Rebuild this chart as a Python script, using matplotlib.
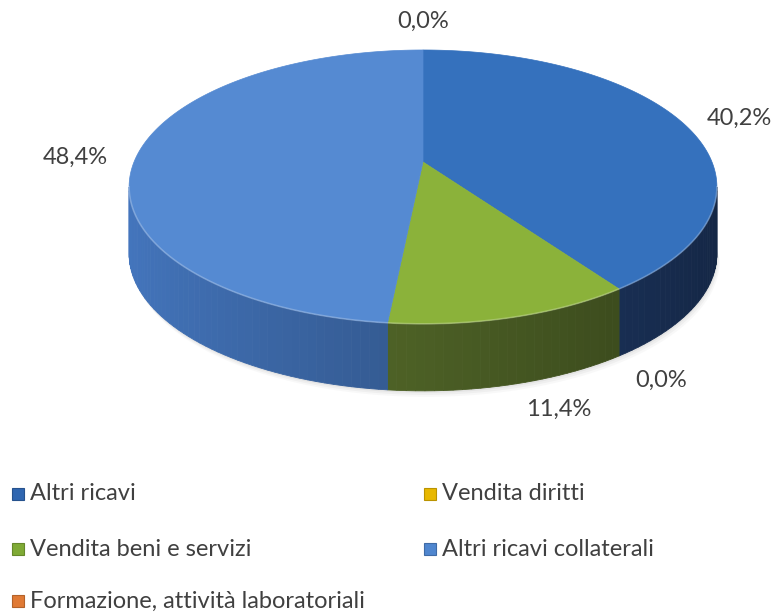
import numpy as np
import matplotlib.pyplot as plt
from matplotlib.patches import Polygon, Rectangle

# ── DATA ─────────────────────────────────────────────────────────────
labels = ["Altri ricavi", "Vendita diritti", "Vendita beni e servizi",
          "Altri ricavi collaterali", "Formazione, attività laboratoriali"]
values = [40.2, 0.0, 11.4, 48.4, 0.0]

top_colors = ["#3571bd", "#f0c000", "#8bb23a", "#558ad2", "#e5813a"]
side_colors = ["#284c88", "#b08c00", "#647e31", "#4476be", "#b0602a"]
legend_colors = ["#2f66b0", "#e8b800", "#7faa35", "#4f86cf", "#e07a35"]

# ── GEOMETRY (pixels) ────────────────────────────────────────────────
W, H = 783, 613
CX, CY = 423, 162       # projected centre of the pie
SX, SY = 289, 132.4     # radius scale
K = 0.182               # perspective strength
DEPTH = 67              # thickness of the pie
TXT = "#404040"
plt.rcParams['font.family'] = ['Lato', 'DejaVu Sans']


def proj(phi, r=1.0):
    """phi in degrees, clockwise from 12 o'clock"""
    p = np.radians(phi)
    X = r * np.sin(p)
    Z = -r * np.cos(p)
    w = 1 - K * Z
    return CX + SX * X / w, CY + SY * Z / w


def shade(color, f):
    c = np.array(plt.matplotlib.colors.to_rgb(color))
    return tuple(np.clip(c * f, 0, 1))


fig = plt.figure(figsize=(W / 100, H / 100), dpi=100)
ax = fig.add_axes([0, 0, 1, 1])
ax.set_xlim(0, W)
ax.set_ylim(H, 0)
ax.axis('off')

bounds = np.concatenate([[0], np.cumsum(values) / sum(values) * 360])
phi_r = np.degrees(np.arccos(-K))
phi_l = 360 - phi_r

# soft shadow under the pie
arc = np.linspace(phi_r, phi_l, 200)
xs, ys = proj(arc)
for off, a in [(6, 0.05), (4, 0.07), (2, 0.09)]:
    ax.fill(np.r_[xs + off * 0.5, xs[::-1]], np.r_[ys + DEPTH + off, ys[::-1] + DEPTH - 4],
            color="#808080", alpha=a, lw=0)

# outer walls (only the front part is visible)
for i in range(len(values)):
    a0, a1 = max(bounds[i], phi_r), min(bounds[i + 1], phi_l)
    if a1 <= a0:
        continue
    steps = np.linspace(a0, a1, max(2, int((a1 - a0) / 1.5) + 1))
    for s0, s1 in zip(steps[:-1], steps[1:]):
        x0, y0 = proj(s0)
        x1, y1 = proj(s1)
        nx = np.sin(np.radians((s0 + s1) / 2))
        f = 1.0 - 0.25 * (nx + 1)
        quad = [(x0, y0), (x1, y1), (x1, y1 + DEPTH), (x0, y0 + DEPTH)]
        ax.add_patch(Polygon(quad, closed=True, fc=shade(side_colors[i], f),
                             ec=shade(side_colors[i], f), lw=0.6))

# top faces
for i in range(len(values)):
    if values[i] == 0:
        continue
    arc = np.linspace(bounds[i], bounds[i + 1], 200)
    xs, ys = proj(arc)
    pts = [(CX, CY)] + list(zip(xs, ys))
    ax.add_patch(Polygon(pts, closed=True, fc=top_colors[i], ec=top_colors[i], lw=0.5))

# light rim on the front edge
arc = np.linspace(phi_r, phi_l, 300)
xs, ys = proj(arc)
ax.plot(xs, ys, color="white", alpha=0.25, lw=1.2)

# data labels
nudges = [(6, 2), (-6, 6), (24, -12), (-5, 3), (0, -10)]
for i, v in enumerate(values):
    mid = (bounds[i] + bounds[i + 1]) / 2
    lx, ly = proj(mid, 1.2)
    z = -np.cos(np.radians(mid))
    if z > 0:
        ly += DEPTH * z
    txt = f"{v:.1f}%".replace(".", ",")
    ax.text(lx + nudges[i][0], ly + nudges[i][1], txt, ha="center", va="center",
            fontsize=17, color=TXT)

# legend (two columns, row-wise)
col_x = [12, 424]
row_y = [494, 549, 601]
for i, lab in enumerate(labels):
    x, y = col_x[i % 2], row_y[i // 2]
    ax.add_patch(Rectangle((x, y - 6), 12, 12, fc=legend_colors[i],
                           ec=shade(legend_colors[i], 0.8), lw=0.8))
    ax.text(x + 18, y, lab, ha="left", va="center", fontsize=17, color=TXT)

fig.savefig("out.png", dpi=100)
